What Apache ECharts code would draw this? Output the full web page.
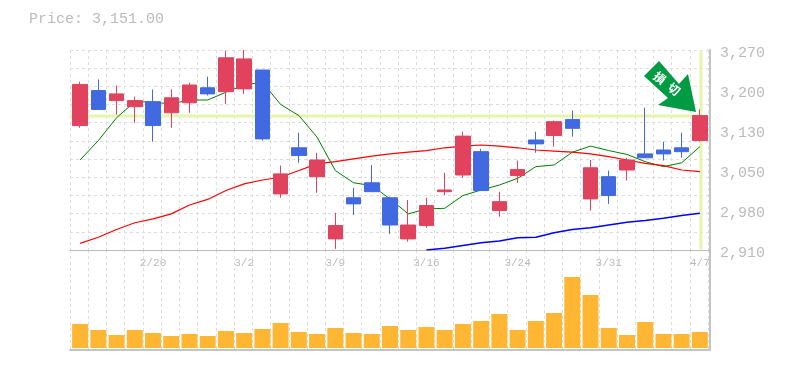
<!DOCTYPE html>
<html>
<head>
<meta charset="utf-8">
<script src="https://cdn.jsdelivr.net/npm/echarts@6/dist/echarts.min.js"></script>
<style>
html, body { margin: 0; padding: 0; background: #fff; }
#box1 { width: 785px; height: 370px; }
</style>
</head>
<body>
<div id="box1"></div>
<script>
var dates = ['2/16','2/17','2/18','2/19','2/20','2/24','2/25','2/26','2/27','3/2','3/3','3/4','3/5','3/6','3/9','3/10','3/11','3/12','3/13','3/16','3/17','3/18','3/19','3/23','3/24','3/25','3/26','3/27','3/30','3/31','4/1','4/2','4/3','4/6','4/7'];
// open, close, low, high
var candles = [
    [3134, 3208, 3130, 3213],
    [3197, 3163, 3163, 3217],
    [3179, 3191, 3154, 3206],
    [3168, 3179, 3139, 3186],
    [3177, 3134, 3105, 3199],
    [3157, 3184, 3130, 3199],
    [3175, 3207, 3157, 3211],
    [3202, 3191, 3188, 3222],
    [3195, 3256, 3173, 3269],
    [3200, 3254, 3191, 3270],
    [3234, 3110, 3107, 3234],
    [3011, 3047, 3004, 3062],
    [3094, 3080, 3067, 3121],
    [3042, 3072, 3013, 3085],
    [2930, 2954, 2912, 2977],
    [3004, 2993, 2973, 3022],
    [3031, 3015, 3015, 3063],
    [3004, 2955, 2939, 3006],
    [2930, 2955, 2925, 3000],
    [2954, 2990, 2950, 3004],
    [3015, 3018, 3009, 3049],
    [3045, 3115, 3040, 3123],
    [3087, 3017, 3017, 3092],
    [2981, 2997, 2970, 3015],
    [3044, 3055, 3031, 3071],
    [3108, 3101, 3085, 3123],
    [3116, 3141, 3096, 3143],
    [3145, 3129, 3114, 3161],
    [3002, 3058, 2981, 3072],
    [3042, 3008, 2993, 3053],
    [3054, 3072, 3035, 3076],
    [3083, 3076, 3076, 3166],
    [3090, 3083, 3071, 3105],
    [3094, 3087, 3076, 3121],
    [3107, 3152, 3105, 3163]
];
var ma5 = [3072, 3107, 3148, 3177, 3176, 3173, 3180, 3180, 3194, 3207, 3212, 3172, 3152, 3113, 3053, 3031, 3026, 3002, 2975, 2984, 2985, 3008, 3018, 3027, 3039, 3060, 3063, 3086, 3097, 3089, 3082, 3069, 3060, 3067, 3096];
var ma25 = [2922, 2933, 2947, 2959, 2966, 2975, 2991, 3001, 3017, 3029, 3036, 3041, 3053, 3065, 3069, 3074, 3079, 3083, 3086, 3089, 3094, 3097, 3099, 3097, 3094, 3090, 3088, 3086, 3083, 3078, 3072, 3066, 3062, 3054, 3051];
var ma75 = [null, null, null, null, null, null, null, null, null, null, null, null, null, null, null, null, null, null, null, 2910, 2913, 2918, 2923, 2926, 2932, 2933, 2941, 2947, 2950, 2955, 2960, 2963, 2967, 2972, 2976];
var volumes = [24, 18, 13, 18, 15, 12, 14, 12, 17, 15, 19, 25, 16, 14, 20, 15, 14, 22, 18, 21, 18, 24, 27, 34, 18, 27, 35, 71, 53, 20, 13, 26, 14, 14, 16];
var priceTicks = ['2,910', '2,980', '3,050', '3,130', '3,200', '3,270'];
var lastPrice = 3151;
var priceText = 'Price: 3,151.00';
var signalText = '損\u2002切';

var red = '#e1435f', blue = '#4169e1';
var fontName = '"Liberation Mono", monospace';
var dashLine = { show: true, lineStyle: { color: '#ddd', type: [3, 3], width: 1 } };
var thinLine = { show: true, onZero: false, lineStyle: { color: '#bbb', width: 1 } };
var solidLine = { show: true, onZero: false, lineStyle: { color: '#c4c4c4', width: 2 } };

var dom = document.getElementById('box1');
var myChart = echarts.init(dom);

var gridX = function (idx, line) {
    return {
        type: 'value', gridIndex: idx, min: 0, max: 35.1, interval: 1,
        axisLine: line, axisTick: { show: false }, axisLabel: { show: false }, splitLine: dashLine
    };
};
var catX = function (idx, labels) {
    return {
        type: 'category', gridIndex: idx, data: dates,
        axisLine: { show: false }, axisTick: { show: false }, splitLine: { show: false },
        axisLabel: labels ? {
            show: true, color: '#bbb', fontFamily: fontName, fontSize: 11, margin: 8,
            interval: function (i) { return i % 5 === 4; }
        } : { show: false }
    };
};

var option = {
    animation: false,
    backgroundColor: '#fff',
    title: {
        text: priceText, left: 24, top: 7,
        textStyle: { color: '#bbb', fontFamily: fontName, fontSize: 15, fontWeight: 'normal' }
    },
    grid: [
        { left: 70, top: 50, width: 640, height: 200 },   // price frame
        { left: 70, top: 250, width: 640, height: 100 },  // volume frame
        { left: 71, top: 50, width: 638, height: 200 },   // candles
        { left: 71, top: 250, width: 638, height: 98 },   // volume bars
        { left: 70, top: 53, width: 640, height: 200 }    // price labels sit 3px under their level
    ],
    xAxis: [
        gridX(0, thinLine), gridX(1, solidLine), catX(2, true), catX(3, false),
        { type: 'value', gridIndex: 4, min: 0, max: 1, show: false, splitLine: { show: false } }
    ],
    yAxis: [
        {
            type: 'value', gridIndex: 0, position: 'right', min: 0, max: 11, interval: 1,
            axisLine: solidLine, axisTick: { show: false }, axisLabel: { show: false }, splitLine: dashLine
        },
        {
            type: 'value', gridIndex: 4, position: 'right', min: 0, max: 5, interval: 1,
            axisLine: { show: false }, axisTick: { show: false }, splitLine: { show: false },
            axisLabel: {
                color: '#bbb', fontFamily: fontName, fontSize: 15, margin: 10,
                formatter: function (v) { return priceTicks[v]; }
            }
        },
        { type: 'value', gridIndex: 0, min: 2910, max: 3270, show: false, splitLine: { show: false } },
        {
            type: 'value', gridIndex: 1, position: 'right', min: 0, max: 1,
            axisLine: solidLine, axisTick: { show: false }, axisLabel: { show: false }, splitLine: { show: false }
        },
        { type: 'value', gridIndex: 2, min: 2910, max: 3270, show: false, splitLine: { show: false } },
        { type: 'value', gridIndex: 3, min: 0, max: 98, show: false, splitLine: { show: false } }
    ],
    series: [
        {
            type: 'line', xAxisIndex: 0, yAxisIndex: 2, symbol: 'none', silent: true, z: 1,
            lineStyle: { color: '#e6f5ab', width: 3 },
            data: [[0, lastPrice], [34.6, lastPrice]]
        },
        {
            type: 'line', xAxisIndex: 0, yAxisIndex: 2, symbol: 'none', silent: true, z: 1,
            lineStyle: { color: '#e6f5ab', width: 3 },
            data: [[34.6, 2912], [34.6, 3268]]
        },
        { type: 'line', xAxisIndex: 2, yAxisIndex: 4, data: ma5, symbol: 'none', z: 2, lineStyle: { color: '#008000', width: 1 } },
        { type: 'line', xAxisIndex: 2, yAxisIndex: 4, data: ma25, symbol: 'none', z: 2, lineStyle: { color: '#ff0000', width: 1.2 } },
        { type: 'line', xAxisIndex: 2, yAxisIndex: 4, data: ma75, symbol: 'none', z: 2, lineStyle: { color: '#0000ff', width: 1.5 } },
        {
            type: 'candlestick', xAxisIndex: 2, yAxisIndex: 4, data: candles, z: 3, barWidth: 15,
            itemStyle: { color: red, color0: blue, borderColor: red, borderColor0: blue, borderWidth: 1 }
        },
        {
            type: 'bar', xAxisIndex: 3, yAxisIndex: 5, data: volumes, barWidth: 16, z: 3,
            itemStyle: { color: '#ffb733' }
        }
    ],
    graphic: [
        {
            type: 'polygon', z: 10,
            shape: { points: [[659, 61], [644, 76], [668, 98], [658, 105], [696, 112], [688, 74], [679, 84]] },
            style: { fill: '#009b43' }
        },
        {
            type: 'text', z: 11, x: 667, y: 83.5, rotation: -38 * Math.PI / 180,
            style: { text: signalText, fill: '#fff', fontSize: 12, fontWeight: 'bold', fontFamily: '"Noto Sans CJK JP"', align: 'center', verticalAlign: 'middle' }
        }
    ]
};

if (option && typeof option === 'object') {
    myChart.setOption(option, true);
}
</script>
</body>
</html>
